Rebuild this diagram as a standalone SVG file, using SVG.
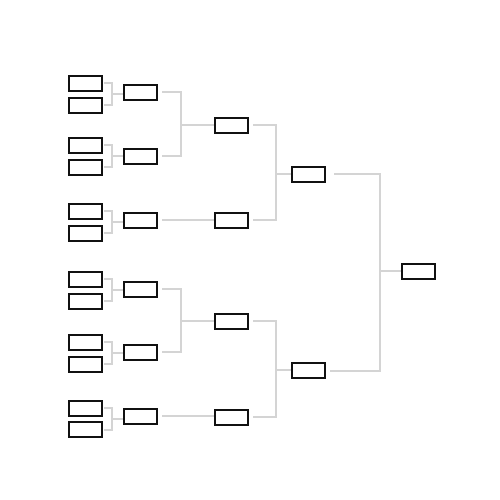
<svg xmlns="http://www.w3.org/2000/svg" width="500" height="500" viewBox="0 0 500 500">
<style>
.b{fill:#fff;stroke:#111;stroke-width:2}
.c{fill:none;stroke:#d4d4d4;stroke-width:2}
</style>
<rect width="500" height="500" fill="#fff"/>
<g id="connectors" class="c">
<path d="M104 83H112V105H104M112 94H123"/>
<path d="M104 145H112V167H104M112 156H123"/>
<path d="M104 211H112V233H104M112 222H123"/>
<path d="M104 279H112V301H104M112 290H123"/>
<path d="M104 342H112V364H104M112 353H123"/>
<path d="M104 408H112V430H104M112 419H123"/>
<path d="M162 92H181V156H162M181 125H214"/>
<path d="M162 220H214"/>
<path d="M162 289H181V352H162M181 321H214"/>
<path d="M162 416H214"/>
<path d="M253 125H276V220H253M276 174H291"/>
<path d="M253 321H276V417H253M276 370H291"/>
<path d="M334 174H380V371H330M380 271H401"/>
</g>
<g id="r1">
<rect id="n1" class="b" x="69" y="76" width="33" height="15"/>
<rect id="n2" class="b" x="69" y="98" width="33" height="15"/>
<rect id="n3" class="b" x="69" y="138" width="33" height="15"/>
<rect id="n4" class="b" x="69" y="160" width="33" height="15"/>
<rect id="n5" class="b" x="69" y="204" width="33" height="15"/>
<rect id="n6" class="b" x="69" y="226" width="33" height="15"/>
<rect id="n7" class="b" x="69" y="272" width="33" height="15"/>
<rect id="n8" class="b" x="69" y="294" width="33" height="15"/>
<rect id="n9" class="b" x="69" y="335" width="33" height="15"/>
<rect id="n10" class="b" x="69" y="357" width="33" height="15"/>
<rect id="n11" class="b" x="69" y="401" width="33" height="15"/>
<rect id="n12" class="b" x="69" y="422" width="33" height="15"/>
</g>
<g id="r2">
<rect id="m1" class="b" x="124" y="85" width="33" height="15"/>
<rect id="m2" class="b" x="124" y="149" width="33" height="15"/>
<rect id="m3" class="b" x="124" y="213" width="33" height="15"/>
<rect id="m4" class="b" x="124" y="282" width="33" height="15"/>
<rect id="m5" class="b" x="124" y="345" width="33" height="15"/>
<rect id="m6" class="b" x="124" y="409" width="33" height="15"/>
</g>
<g id="r3">
<rect id="q1" class="b" x="215" y="118" width="33" height="15"/>
<rect id="q2" class="b" x="215" y="213" width="33" height="15"/>
<rect id="q3" class="b" x="215" y="314" width="33" height="15"/>
<rect id="q4" class="b" x="215" y="410" width="33" height="15"/>
</g>
<g id="r4">
<rect id="s1" class="b" x="292" y="167" width="33" height="15"/>
<rect id="s2" class="b" x="292" y="363" width="33" height="15"/>
</g>
<g id="final">
<rect id="f" class="b" x="402" y="264" width="33" height="15"/>
</g>
</svg>
